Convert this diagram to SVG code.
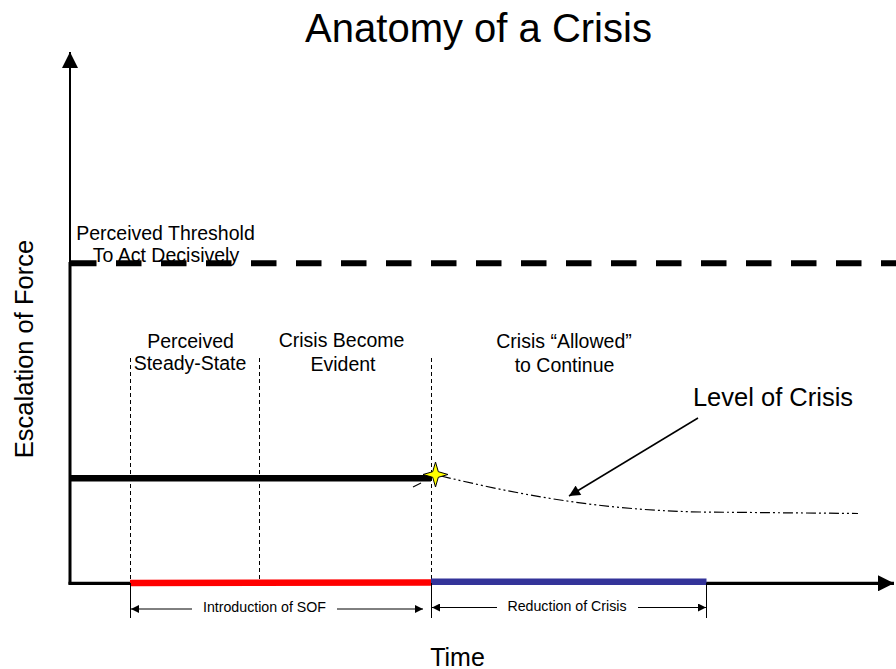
<svg xmlns="http://www.w3.org/2000/svg" width="896" height="669" viewBox="0 0 896 669">
<style>
text{font-family:"Liberation Sans",Arial,sans-serif;fill:#000}
.lbl{font-size:19.5px;text-anchor:middle}
.big{font-size:25.5px;text-anchor:middle}
.dim{font-size:14.2px;text-anchor:middle}
.guide{stroke:#000;stroke-width:1;stroke-dasharray:4 3;fill:none}
.tick{stroke:#000;stroke-width:1;fill:none}
.thin{stroke:#000;stroke-width:1.2;fill:none}
</style>
<defs>
<marker id="axisHead" viewBox="0 0 10 10" refX="10" refY="5" markerWidth="16" markerHeight="16" markerUnits="userSpaceOnUse" orient="auto">
<path d="M0,0 L10,5 L0,10 Z" fill="#000"/>
</marker>
<marker id="smallHead" viewBox="0 0 10 10" refX="10" refY="5" markerWidth="8" markerHeight="8" markerUnits="userSpaceOnUse" orient="auto">
<path d="M0,0 L10,5 L0,10 Z" fill="#000"/>
</marker>
<marker id="ptrHead" viewBox="0 0 10 10" refX="10" refY="5" markerWidth="12" markerHeight="11" markerUnits="userSpaceOnUse" orient="auto">
<path d="M0,0 L10,5 L0,10 Z" fill="#000"/>
</marker>
</defs>
<rect width="896" height="669" fill="#fff"/>

<g id="title"><text x="478.5" y="42" style="font-size:40px;text-anchor:middle">Anatomy of a Crisis</text></g>

<g id="threshold-label">
<text class="lbl" x="165.5" y="240">Perceived Threshold</text>
<text class="lbl" x="166" y="262">To Act Decisively</text>
</g>

<g id="connectors">
<!-- axes -->
<line x1="70" y1="263" x2="70" y2="52" stroke="#000" stroke-width="2" marker-end="url(#axisHead)"/>
<line x1="70" y1="584.5" x2="70" y2="262" stroke="#000" stroke-width="3"/>
<line x1="68.5" y1="583.3" x2="894" y2="583.3" stroke="#000" stroke-width="3.3" marker-end="url(#axisHead)"/>
<!-- threshold dashed line -->
<line x1="71" y1="263.3" x2="896" y2="263.3" stroke="#000" stroke-width="6" stroke-dasharray="25.5 19.5"/>
<!-- phase guides -->
<line class="guide" x1="130.5" y1="358" x2="130.5" y2="583"/>
<line class="guide" x1="259.5" y1="358" x2="259.5" y2="583"/>
<line class="guide" x1="431.5" y1="358" x2="431.5" y2="583"/>
<!-- red / blue phase bars -->
<line x1="130" y1="582.9" x2="431" y2="582.5" stroke="#ff0000" stroke-width="6.5"/>
<line x1="431" y1="581.7" x2="706.5" y2="581.7" stroke="#333399" stroke-width="6.5"/>
<!-- crisis level line -->
<line x1="70" y1="478.3" x2="431" y2="478.3" stroke="#000" stroke-width="6.5"/>
<path class="thin" d="M441,476 C520,495 600,510 700,512 L858,513.5" stroke-dasharray="10 3 2 3 2 3"/>
<line class="thin" x1="413" y1="487" x2="421" y2="483"/>
<!-- level of crisis pointer -->
<line x1="698" y1="418" x2="569" y2="496" stroke="#000" stroke-width="1.5" marker-end="url(#ptrHead)"/>
<!-- dimension lines -->
<line class="tick" x1="130.5" y1="583" x2="130.5" y2="618"/>
<line class="tick" x1="431.5" y1="583" x2="431.5" y2="618"/>
<line class="tick" x1="706.5" y1="583" x2="706.5" y2="618"/>
<line class="tick" x1="192" y1="609" x2="131" y2="609" marker-end="url(#smallHead)"/>
<line class="tick" x1="337" y1="609" x2="423" y2="609" marker-end="url(#smallHead)"/>
<line class="tick" x1="497" y1="607.5" x2="432" y2="607.5" marker-end="url(#smallHead)"/>
<line class="tick" x1="638" y1="607.5" x2="706" y2="607.5" marker-end="url(#smallHead)"/>
</g>

<g id="star"><polygon points="435.5,462 438.3,471.7 448,474.5 438.3,477.3 435.5,487 432.7,477.3 423,474.5 432.7,471.7" fill="#ffff00" stroke="#000" stroke-width="1"/></g>

<g id="phase-steady"><text class="lbl" x="190.5" y="348">Perceived</text><text class="lbl" x="190" y="370">Steady-State</text></g>
<g id="phase-evident"><text class="lbl" x="341.5" y="347">Crisis Become</text><text class="lbl" x="343" y="371">Evident</text></g>
<g id="phase-allowed"><text class="lbl" x="564" y="348">Crisis “Allowed”</text><text class="lbl" x="564.5" y="372">to Continue</text></g>
<g id="level-label"><text class="big" x="773" y="406">Level of Crisis</text></g>
<g id="y-label"><text class="big" transform="translate(33,349) rotate(-90)">Escalation of Force</text></g>
<g id="x-label"><text x="457.5" y="665.5" style="font-size:25px;text-anchor:middle">Time</text></g>
<g id="dim-intro"><text class="dim" x="264.5" y="612">Introduction of SOF</text></g>
<g id="dim-reduction"><text class="dim" x="567" y="610.5">Reduction of Crisis</text></g>
</svg>
